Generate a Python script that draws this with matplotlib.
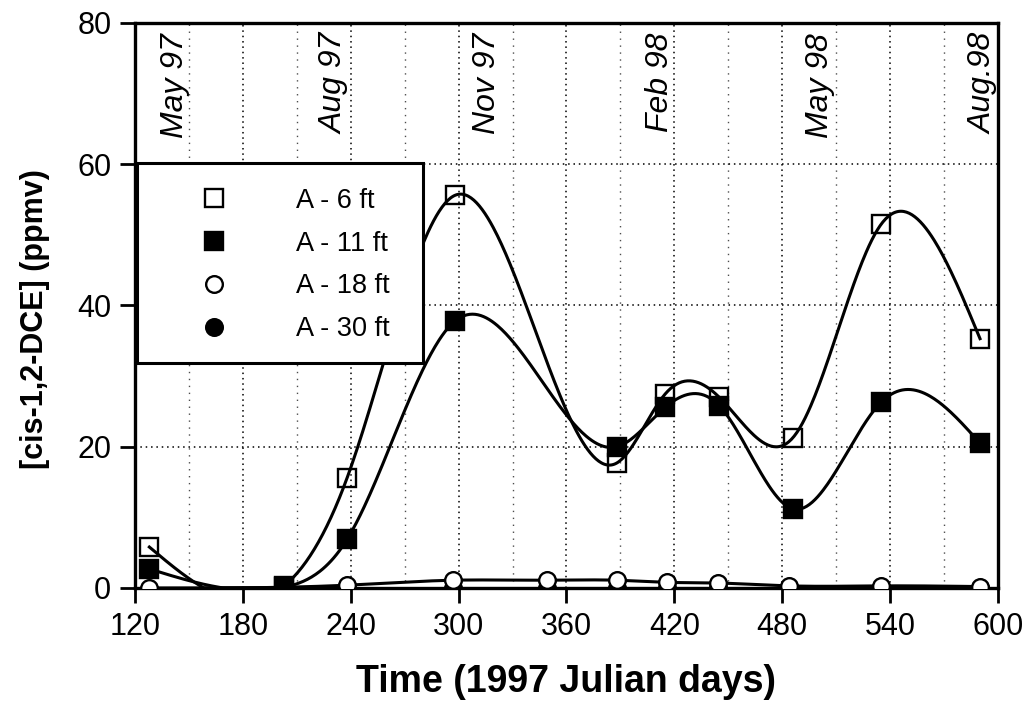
import numpy as np
import matplotlib
matplotlib.use("Agg")
import matplotlib.pyplot as plt
from matplotlib.lines import Line2D
from matplotlib.patches import Rectangle

plt.rcParams['font.family'] = ['Liberation Sans', 'DejaVu Sans']

# sampling days (1997 Julian days) and concentrations (ppmv)
days_6 = [128, 203, 238, 298, 388, 415, 445, 486, 535, 590]
conc_6 = [5.8, 0.3, 15.6, 55.6, 17.7, 27.5, 27.0, 21.3, 51.5, 35.3]

days_11 = [128, 203, 238, 298, 388, 415, 445, 486, 535, 590]
conc_11 = [2.7, 0.1, 6.9, 37.8, 20.0, 25.6, 25.8, 11.2, 26.3, 20.5]

days_18 = [128, 238, 297, 349, 388, 416, 444, 484, 535, 590]
conc_18 = [0.0, 0.4, 1.1, 1.1, 1.1, 0.8, 0.7, 0.3, 0.3, 0.2]

days_30 = [297, 349, 388, 416, 444, 484, 535, 590]
conc_30 = [0.0, 0.0, 0.0, 0.0, 0.0, 0.0, 0.0, 0.0]

month_labels = ["May 97", "Aug 97", "Nov 97", "Feb 98", "May 98", "Aug.98"]
month_days = [142, 231, 316, 412, 501, 592]


def natural_spline(x, y, xs):
    # plain natural cubic spline, no scipy needed
    x = np.asarray(x, float)
    y = np.asarray(y, float)
    n = len(x)
    h = np.diff(x)
    A = np.zeros((n, n))
    b = np.zeros(n)
    A[0, 0] = A[-1, -1] = 1
    for i in range(1, n - 1):
        A[i, i - 1] = h[i - 1]
        A[i, i] = 2 * (h[i - 1] + h[i])
        A[i, i + 1] = h[i]
        b[i] = 6 * ((y[i + 1] - y[i]) / h[i] - (y[i] - y[i - 1]) / h[i - 1])
    M = np.linalg.solve(A, b)
    k = np.clip(np.searchsorted(x, xs) - 1, 0, n - 2)
    t0 = xs - x[k]
    t1 = x[k + 1] - xs
    hk = h[k]
    return (M[k] * t1**3 / (6 * hk) + M[k + 1] * t0**3 / (6 * hk)
            + (y[k] / hk - M[k] * hk / 6) * t1
            + (y[k + 1] / hk - M[k + 1] * hk / 6) * t0)


fig = plt.figure(figsize=(10.24, 7.03), dpi=100)
ax = fig.add_axes([0.1318, 0.1636, 0.8428, 0.8037])

lw = 2.2
for dd, cc in [(days_6, conc_6), (days_11, conc_11), (days_18, conc_18), (days_30, conc_30)]:
    xs = np.linspace(dd[0], dd[-1], 600)
    ys = np.maximum(natural_spline(dd, cc, xs), 0)
    ax.plot(xs, ys, color='black', lw=lw, zorder=3)

ms = 13
mew = 1.7
ax.plot(days_30, conc_30, 'o', ms=12, mfc='black', mec='black', mew=mew, zorder=4)
ax.plot(days_18, conc_18, 'o', ms=12, mfc='white', mec='black', mew=mew, zorder=5)
ax.plot(days_11, conc_11, 's', ms=ms, mfc='black', mec='black', mew=mew, zorder=6)
ax.plot(days_6, conc_6, 's', ms=ms, mfc='none', mec='black', mew=mew, zorder=7)

ax.set_xlim(120, 600)
ax.set_ylim(0, 80)
ax.set_xticks(np.arange(120, 601, 60))
ax.set_xticks(np.arange(150, 600, 60), minor=True)
ax.set_yticks(np.arange(0, 81, 20))
ax.tick_params(axis='both', which='major', direction='out', length=11, width=2,
               labelsize=22, pad=6)
ax.tick_params(axis='x', which='minor', length=0)

ax.grid(True, which='major', color='black', linestyle=(0, (1, 2.5)), lw=1.1)
ax.grid(True, which='minor', axis='x', color='0.3', linestyle=(0, (1, 4)), lw=1.0)
for s in ax.spines.values():
    s.set_linewidth(2.4)

ax.set_xlabel("Time (1997 Julian days)", fontsize=27, fontweight='bold')
ax.xaxis.set_label_coords(0.5, -0.135)
ax.set_ylabel("[cis-1,2-DCE] (ppmv)", fontsize=22, fontweight='bold')
ax.yaxis.set_label_coords(-0.098, 0.476)

for lab, d in zip(month_labels, month_days):
    ax.text(d, 78.6, lab, rotation=90, ha='center', va='top', fontsize=23,
            style='italic', zorder=2)

# legend box drawn by hand so its size matches
ax.add_patch(Rectangle((0.0023, 0.3982), 0.3314, 0.354, transform=ax.transAxes,
                       facecolor='white', edgecolor='black', lw=2.2, zorder=9,
                       clip_on=False))

handles = [
    Line2D([], [], ls='none', marker='s', ms=ms, mfc='none', mec='black', mew=mew),
    Line2D([], [], ls='none', marker='s', ms=ms, mfc='black', mec='black', mew=mew),
    Line2D([], [], ls='none', marker='o', ms=12, mfc='white', mec='black', mew=mew),
    Line2D([], [], ls='none', marker='o', ms=12, mfc='black', mec='black', mew=mew),
]
labels = ["A - 6 ft", "A - 11 ft", "A - 18 ft", "A - 30 ft"]
leg = ax.legend(handles, labels, loc='upper left', bbox_to_anchor=(0.0023, 0.7522),
                borderaxespad=0, fontsize=19.5, frameon=False, borderpad=0.92,
                labelspacing=0.62, handlelength=3.85, handletextpad=1.12)
leg.set_zorder(10)

fig.savefig("out.png", dpi=100)
